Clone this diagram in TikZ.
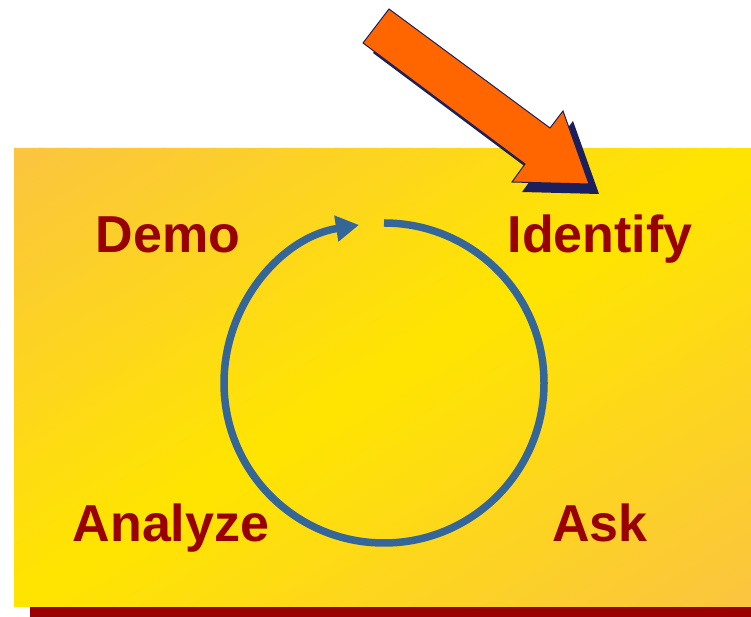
\documentclass[tikz,border=0pt]{standalone}
\usepackage{fontspec}
\setmainfont{Liberation Sans}
\usepackage{tikz}
\usetikzlibrary{arrows.meta}
\definecolor{wordred}{RGB}{153,0,0}
\definecolor{cycblue}{RGB}{53,102,153}
\definecolor{pointorange}{RGB}{255,102,0}
\definecolor{pointnavy}{RGB}{27,31,94}
\definecolor{paneledge}{RGB}{251,196,64}
\definecolor{panelmid}{RGB}{255,229,0}
\tikzset{
    word/.style={text=wordred, font=\fontsize{52}{52}\selectfont\bfseries, inner sep=0, anchor=base}, % step labels
    cyc/.style={draw=cycblue, line width=7.5pt, -{Triangle[length=23pt, width=25pt]}}, % the cycle
    band/.style={fill=paneledge!#1!panelmid} % one diagonal strip of the panel
}
\tikzstyle{pointer}=[fill=pointorange, draw=pointnavy, line width=1pt, line join=miter]
\tikzstyle{pointer shadow}=[fill=pointnavy]

\begin{document}
\begin{tikzpicture}[x=1pt, y=1pt]
        \useasboundingbox (0, 0) rectangle (751, 617);

        \fill[wordred] (30, 0) rectangle (751, 10);

        % panel: diagonal gradient, orange corners, yellow middle
        \begin{scope}[shift={(14, 469)}, x=737pt, y=-459pt]
            \clip (0, 0) rectangle (1, 1);
            \foreach \k [evaluate=\k as \a using \k/30,
                         evaluate=\k as \b using (\k+1.2)/30,
                         evaluate=\k as \m using abs(\k+0.5-30)*100/30] in {0,...,59}
                \fill[band=\m] (\a, 0) -- (0, \a) -- (0, \b) -- (\b, 0) -- cycle;
        \end{scope}

        \node[word] (demo) at (168, 364) {Demo};
        \node[word] (identify) at (600, 364) {Identify};
        \node[word] (analyze) at (171, 75) {Analyze};
        \node[word] (ask) at (600, 75) {Ask};

        \coordinate (c) at (384, 234);
        \draw[cyc] ([shift={(90:160)}]c) arc[start angle=90, end angle=-261, radius=160];

        \begin{scope}[shift={(10, -10)}]
            \fill[pointer shadow] (389, 608) -- (550, 489) -- (563, 506) -- (589, 433)
                -- (512, 435) -- (525, 453) -- (363, 574) -- cycle;
        \end{scope}
        \draw[pointer] (389, 608) -- (550, 489) -- (563, 506) -- (589, 433)
            -- (512, 435) -- (525, 453) -- (363, 574) -- cycle;
      \end{tikzpicture}
\end{document}
